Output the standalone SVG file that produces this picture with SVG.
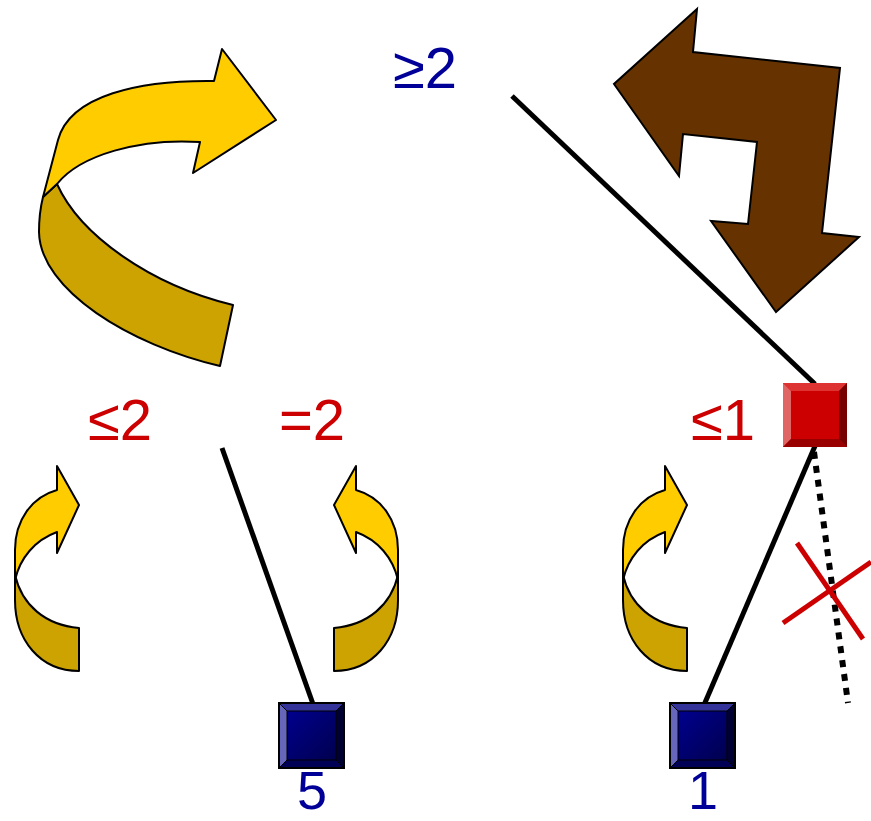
<svg xmlns="http://www.w3.org/2000/svg" xmlns:xlink="http://www.w3.org/1999/xlink" width="871" height="821" viewBox="0 0 871 821">
<style>
.lbl{font-family:"Liberation Sans","DejaVu Sans",sans-serif;font-size:58px;text-anchor:middle}
.num{font-size:54px}
.red{fill:#cc0000}
.blue{fill:#000099}
.edge{stroke:#000;stroke-width:5;fill:none}
.dot{stroke:#000;stroke-width:6;stroke-dasharray:7 7;fill:none}
.lite{fill:#ffcc00;stroke:#000;stroke-width:2;stroke-linejoin:round}
.dark{fill:#cca300;stroke:#000;stroke-width:2;stroke-linejoin:round}
.xmark{stroke:#cc0000;stroke-width:5;fill:none}
</style>
<defs>
<linearGradient id="bg" x1="0" y1="0" x2="1" y2="1">
<stop offset="0" stop-color="#000099"/><stop offset="1" stop-color="#000044"/>
</linearGradient>
<symbol id="blueBox" viewBox="0 0 65 65" width="65" height="65" overflow="visible">
<rect x="0" y="0" width="65" height="65" fill="url(#bg)"/>
<polygon points="0,0 65,0 57,8 8,8" fill="#333399"/>
<polygon points="0,0 8,8 8,57 0,65" fill="#6666bb"/>
<polygon points="0,65 8,57 57,57 65,65" fill="#000055"/>
<polygon points="65,0 65,65 57,57 57,8" fill="#000033"/>
<rect x="0" y="0" width="65" height="65" fill="none" stroke="#000" stroke-width="2"/>
<path d="M0,0 L8,8 M65,0 L57,8 M0,65 L8,57 M65,65 L57,57 M8,8 H57 V57 H8 Z" fill="none" stroke="#000" stroke-width="1"/>
</symbol>
<symbol id="smallArrow" overflow="visible">
<path class="dark" d="M15,575 C22,605 45,625 79,628 L79,671 C40,671 15,640 15,600 Z"/>
<path class="lite" d="M57,466 L79,505 L57,553 L57,532 C35,540 20,558 15,580 L15,550 C15,520 32,497 57,490 Z"/>
</symbol>
</defs>
<rect width="871" height="821" fill="#fff"/>

<g id="arrows">
<g id="big-yellow-arrow">
<path class="dark" d="M57,184 C80,235 150,285 233,305 L220,366 C130,345 40,290 39,232 C39,215 41,205 43,197 Z"/>
<path class="lite" d="M214,81 L222,49 L276,120 L193,173 L200,142 C140,138 80,155 57,184 L43,197 L58,140 C70,95 140,80 214,81 Z"/>
</g>
<polygon id="brown-arrow" points="697,9 614,84 679,176 683,134 757,142 748,224 711,221 776,312 859,237 822,233 840,68 693,52" fill="#663300" stroke="#000" stroke-width="2" stroke-linejoin="miter"/>
<use id="small-arrow-left" xlink:href="#smallArrow"/>
<use id="small-arrow-right" xlink:href="#smallArrow" transform="translate(413,0) scale(-1,1)"/>
<use id="small-arrow-third" xlink:href="#smallArrow" transform="translate(608,0)"/>
</g>

<g id="connectors">
<line class="edge" x1="512" y1="96" x2="815" y2="384"/>
<line class="edge" x1="222" y1="448" x2="313" y2="704"/>
<line class="edge" x1="815" y1="446" x2="704" y2="705"/>
<line class="dot" x1="814" y1="452" x2="848" y2="703"/>
<g id="cross">
<line class="xmark" x1="797" y1="543" x2="863" y2="639"/>
<line class="xmark" x1="783" y1="623" x2="871" y2="562"/>
</g>
</g>

<g id="node-root"><text class="lbl blue" x="425" y="88">≥2</text></g>
<g id="node-le2"><text class="lbl red" x="120" y="440">≤2</text></g>
<g id="node-eq2"><text class="lbl red" x="312" y="440">=2</text></g>
<g id="node-red">
<rect x="783" y="383" width="64" height="64" fill="#cc0000"/>
<polygon points="783,383 847,383 839,391 791,391" fill="#dd3333"/>
<polygon points="783,383 791,391 791,439 783,447" fill="#e06666"/>
<polygon points="783,447 791,439 839,439 847,447" fill="#990000"/>
<polygon points="847,383 847,447 839,439 839,391" fill="#770000"/>
<text class="lbl red" x="723" y="440">≤1</text>
</g>
<g id="node-5">
<use xlink:href="#blueBox" x="279" y="703"/>
<text class="lbl num blue" x="312" y="809">5</text>
</g>
<g id="node-1">
<use xlink:href="#blueBox" x="670" y="703"/>
<text class="lbl num blue" x="703" y="809">1</text>
</g>
</svg>
